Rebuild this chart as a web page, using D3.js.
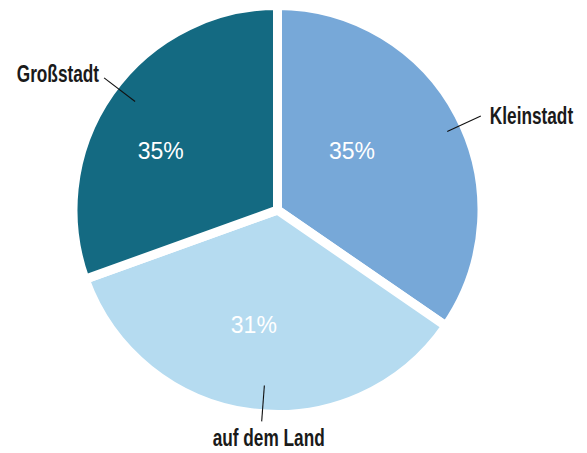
<!DOCTYPE html>
<html>
<head>
<meta charset="utf-8">
<script src="https://cdn.jsdelivr.net/npm/d3@7"></script>
<style>
  html, body { margin: 0; padding: 0; background: #ffffff; }
  svg { display: block; }
</style>
</head>
<body>
<svg id="chart" width="587" height="453"></svg>
<script>
// Data (clockwise from 12 o'clock)
const categories = ["Kleinstadt", "auf dem Land", "Großstadt"];
const sliceShares = [34.6, 34.9, 30.5];          // slice sizes as drawn
const percentLabels = ["35%", "31%", "35%"];     // printed values
const colors = ["#77a8d8", "#b5dbf0", "#146a82"];

// Layout tweaks (polar, relative to each slice's middle angle)
const pctNudgeDeg = [-10.7, 4.3, -8.2];
const pctRadius = [95, 117, 131];
const leaderNudgeDeg = [2.9, -3.1, 2.2];
const leaderInner = [187, 176, 179];
const leaderOuter = [224, 212, 218];

const width = 587, height = 453;
const cx = 277.5, cy = 210, R = 200, gap = 9;

const svg = d3.select("#chart");
const g = svg.append("g").attr("transform", `translate(${cx},${cy})`);

const data = categories.map((c, i) => ({ i, cat: c, value: sliceShares[i], label: percentLabels[i], color: colors[i] }));
const pie = d3.pie().sort(null).value(d => d.value).startAngle(0).endAngle(2 * Math.PI);
const arcs = pie(data);

const arc = d3.arc().innerRadius(0).outerRadius(R + gap / 2);
const rad = Math.PI / 180;
const mid = d => (d.startAngle + d.endAngle) / 2;
const polar = (a, r) => [r * Math.sin(a), -r * Math.cos(a)];

g.append("g").selectAll("path").data(arcs).join("path")
  .attr("d", arc)
  .attr("fill", d => d.data.color)
  .attr("stroke", "#ffffff")
  .attr("stroke-width", gap)
  .attr("stroke-linejoin", "miter");

// leader lines
const leadA = d => mid(d) + leaderNudgeDeg[d.data.i] * rad;
g.append("g").selectAll("line").data(arcs).join("line")
  .attr("x1", d => polar(leadA(d), leaderInner[d.data.i])[0])
  .attr("y1", d => polar(leadA(d), leaderInner[d.data.i])[1])
  .attr("x2", d => polar(leadA(d), leaderOuter[d.data.i])[0])
  .attr("y2", d => polar(leadA(d), leaderOuter[d.data.i])[1])
  .attr("stroke", "#111111")
  .attr("stroke-width", 1.1);

// category labels
g.append("g").selectAll("g").data(arcs).join("g")
  .each(function (d) {
    const [x, y] = polar(leadA(d), leaderOuter[d.data.i]);
    const sx = Math.sin(mid(d)), sy = -Math.cos(mid(d));
    let tx, ty, anchor;
    if (sy > 0.9) { tx = x + 7; ty = y + 25; anchor = "middle"; }
    else if (sx > 0) { tx = x + 9; ty = y + 8; anchor = "start"; }
    else { tx = x - 5; ty = y + 4; anchor = "end"; }
    d3.select(this).attr("transform", `translate(${tx},${ty}) scale(0.75,1)`)
      .append("text")
      .attr("text-anchor", anchor)
      .attr("fill", "#1a1a1a")
      .attr("font-family", "Liberation Sans, Arial, sans-serif")
      .attr("font-weight", "bold")
      .attr("font-size", 23)
      .text(d.data.cat);
  });

// percent labels
const pctPos = d => polar(mid(d) + pctNudgeDeg[d.data.i] * rad, pctRadius[d.data.i]);
g.append("g").selectAll("text").data(arcs).join("text")
  .attr("x", d => pctPos(d)[0])
  .attr("y", d => pctPos(d)[1] + 8)
  .attr("text-anchor", "middle")
  .attr("fill", "#ffffff")
  .attr("font-family", "Liberation Sans, Arial, sans-serif")
  .attr("font-size", 23)
  .text(d => d.data.label);
</script>
</body>
</html>
